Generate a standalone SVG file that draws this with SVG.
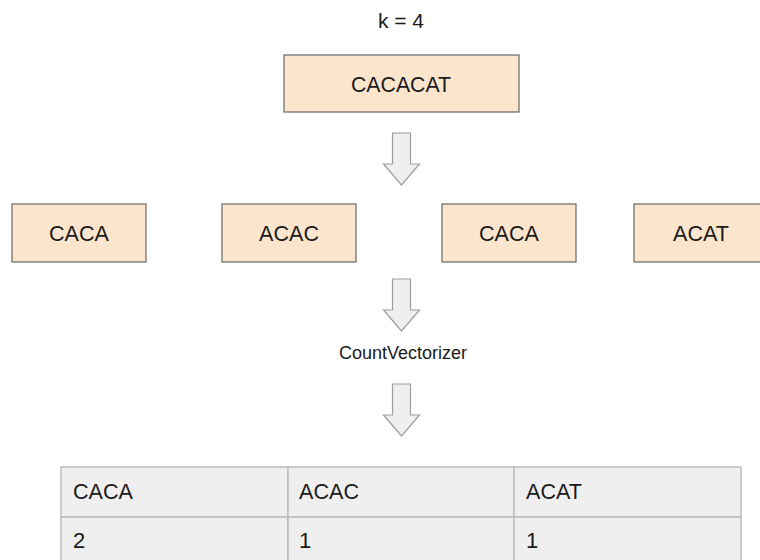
<svg xmlns="http://www.w3.org/2000/svg" width="760" height="560" viewBox="0 0 760 560">
  <style>
    .box { fill: #fce5cd; stroke: #666666; stroke-width: 1.2; }
    .t { font-family: "Liberation Sans", Arial, sans-serif; font-size: 22px; fill: #1a1a1a; }
    .c { text-anchor: middle; }
    .arrow { fill: #efefef; stroke: #9e9e9e; stroke-width: 1.2; stroke-linejoin: miter; }
    .cell { fill: #efefef; stroke: #bdbdbd; stroke-width: 1.5; }
  </style>
  <defs>
    <path id="downArrow" d="M -9 0 L 9 0 L 9 31 L 18 31 L 0 52 L -18 31 L -9 31 Z"/>
  </defs>

  <g id="label-k">
    <text class="t c" x="401" y="28" style="font-size:21px">k = 4</text>
  </g>

  <g id="node-cacacat">
    <rect class="box" x="284" y="55" width="235" height="57"/>
    <text class="t c" x="401" y="92" textLength="100" lengthAdjust="spacingAndGlyphs">CACACAT</text>
  </g>

  <g id="node-caca1">
    <rect class="box" x="12" y="204" width="134" height="58"/>
    <text class="t c" x="79" y="241" textLength="60" lengthAdjust="spacingAndGlyphs">CACA</text>
  </g>
  <g id="node-acac">
    <rect class="box" x="222" y="204" width="134" height="58"/>
    <text class="t c" x="289" y="241" textLength="60" lengthAdjust="spacingAndGlyphs">ACAC</text>
  </g>
  <g id="node-caca2">
    <rect class="box" x="442" y="204" width="134" height="58"/>
    <text class="t c" x="509" y="241" textLength="60" lengthAdjust="spacingAndGlyphs">CACA</text>
  </g>
  <g id="node-acat">
    <rect class="box" x="634" y="204" width="134" height="58"/>
    <text class="t c" x="701" y="241" textLength="56" lengthAdjust="spacingAndGlyphs">ACAT</text>
  </g>

  <g id="label-countvectorizer">
    <text class="t c" x="403" y="359" style="font-size:18px">CountVectorizer</text>
  </g>

  <g id="connectors">
    <use href="#downArrow" class="arrow" transform="translate(401.5,133)"/>
    <use href="#downArrow" class="arrow" transform="translate(401.5,279)"/>
    <use href="#downArrow" class="arrow" transform="translate(401.5,384)"/>
  </g>

  <g id="table">
    <rect class="cell" x="61" y="467" width="227" height="50"/>
    <rect class="cell" x="288" y="467" width="226" height="50"/>
    <rect class="cell" x="514" y="467" width="227" height="50"/>
    <rect class="cell" x="61" y="517" width="227" height="50"/>
    <rect class="cell" x="288" y="517" width="226" height="50"/>
    <rect class="cell" x="514" y="517" width="227" height="50"/>
    <text class="t" x="73" y="499" textLength="60" lengthAdjust="spacingAndGlyphs">CACA</text>
    <text class="t" x="299" y="499" textLength="60" lengthAdjust="spacingAndGlyphs">ACAC</text>
    <text class="t" x="526" y="499" textLength="56" lengthAdjust="spacingAndGlyphs">ACAT</text>
    <text class="t" x="73" y="548">2</text>
    <text class="t" x="299" y="548">1</text>
    <text class="t" x="526" y="548">1</text>
  </g>
</svg>
